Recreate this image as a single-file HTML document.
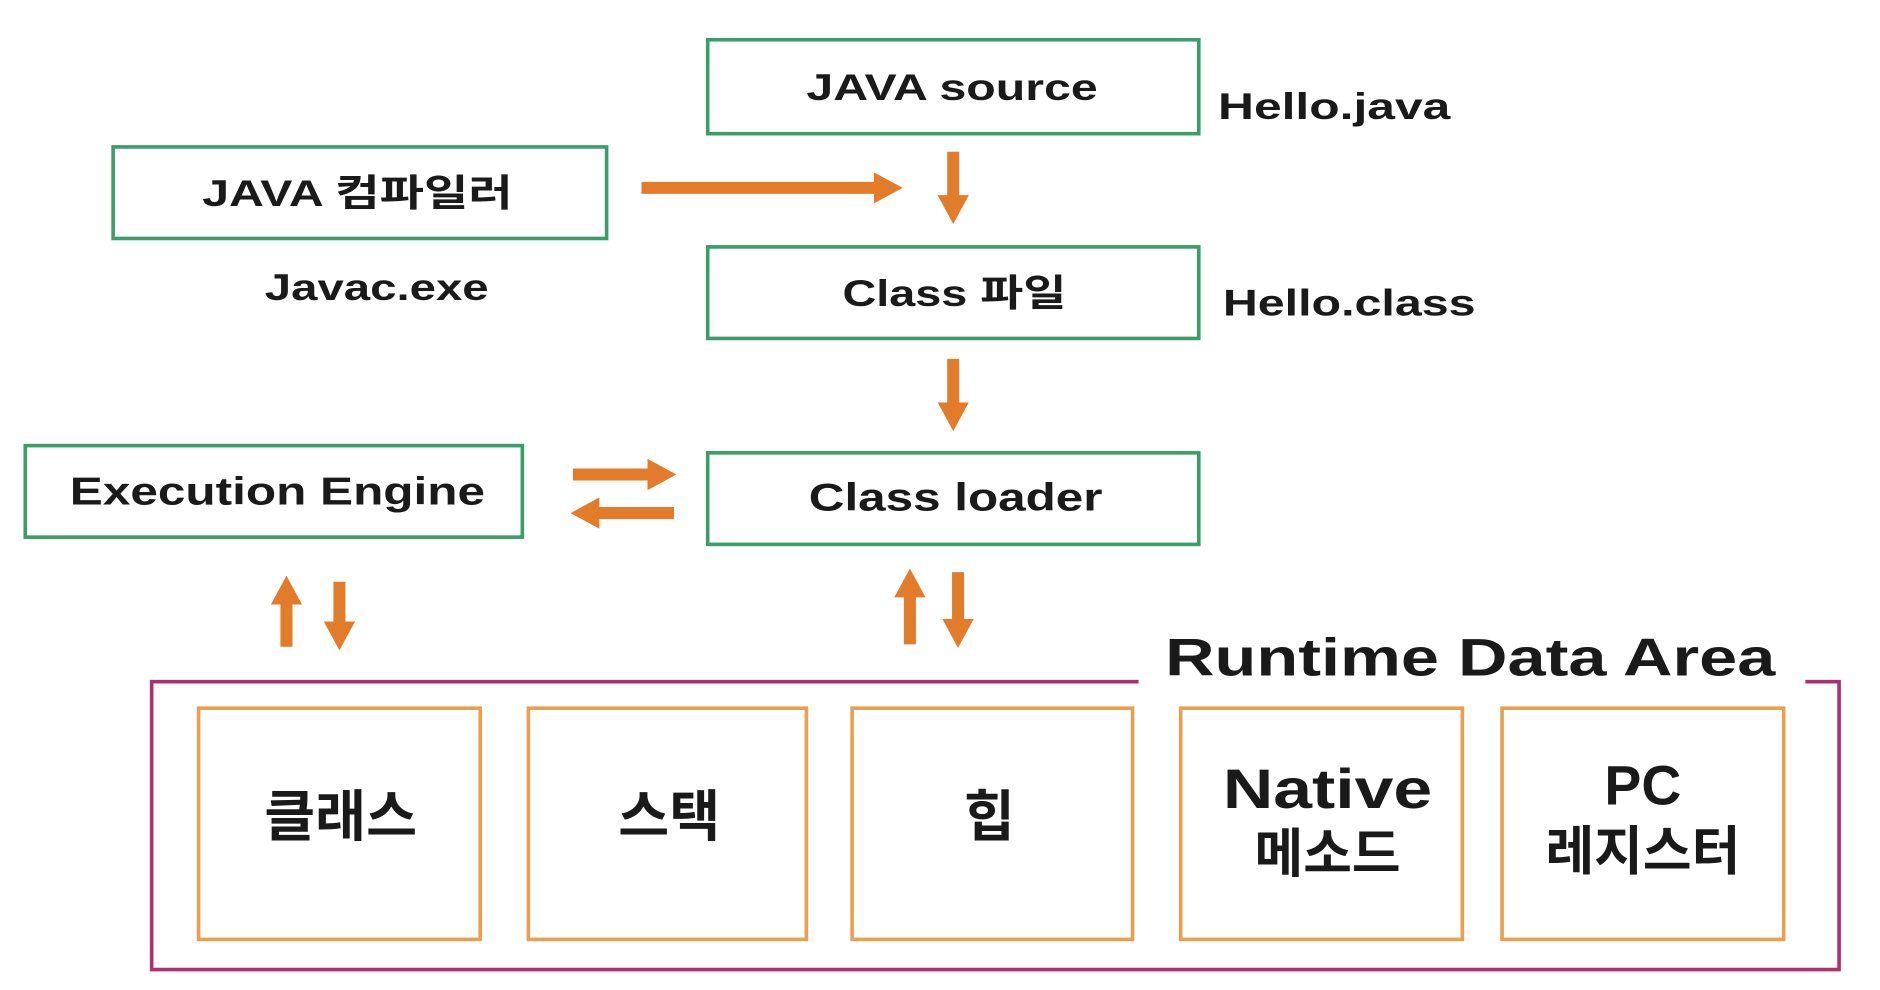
<!DOCTYPE html>
<html><head><meta charset="utf-8"><style>
html,body{margin:0;padding:0;background:#fff;}
svg{display:block;}
text{font-family:"Liberation Sans","Noto Sans CJK KR",sans-serif;font-weight:bold;fill:#1a1a1a;}
</style></head><body>
<svg width="1880" height="990" viewBox="0 0 1562 822" preserveAspectRatio="none" xmlns="http://www.w3.org/2000/svg">
<defs>
<marker id="ah" markerWidth="2.4" markerHeight="2.6" refX="1.2" refY="1.3" orient="auto" markerUnits="strokeWidth">
<path d="M0,0 L2.4,1.3 L0,2.6 Z" fill="#e27c2a"/></marker>
</defs>
<g fill="none" stroke="#3a9d6a" stroke-width="3">
<rect x="588" y="33" width="408" height="78"/>
<rect x="94" y="122" width="410" height="76"/>
<rect x="588" y="205" width="408" height="76"/>
<rect x="21" y="370" width="413" height="76"/>
<rect x="588" y="376" width="408" height="76"/>
</g>
<text x="670" y="83" font-size="31" textLength="242" lengthAdjust="spacingAndGlyphs">JAVA source</text>
<text x="1012" y="99" font-size="31" textLength="193" lengthAdjust="spacingAndGlyphs">Hello.java</text>
<text x="168" y="171" font-size="31" textLength="258" lengthAdjust="spacingAndGlyphs">JAVA 컴파일러</text>
<text x="220" y="249" font-size="31" textLength="186" lengthAdjust="spacingAndGlyphs">Javac.exe</text>
<text x="700" y="254" font-size="31" textLength="186" lengthAdjust="spacingAndGlyphs">Class 파일</text>
<text x="1016" y="262" font-size="31" textLength="210" lengthAdjust="spacingAndGlyphs">Hello.class</text>
<text x="58" y="419" font-size="32" textLength="345" lengthAdjust="spacingAndGlyphs">Execution Engine</text>
<text x="672" y="424" font-size="32" textLength="244" lengthAdjust="spacingAndGlyphs">Class loader</text>
<g stroke="#e27c2a" stroke-width="10" fill="none" marker-end="url(#ah)">
<line x1="533" y1="156" x2="738" y2="156"/>
<line x1="792" y1="126" x2="792" y2="174"/>
<line x1="792" y1="298" x2="792" y2="346"/>
<line x1="476" y1="394" x2="550" y2="394"/>
<line x1="560" y1="426" x2="486" y2="426"/>
<line x1="238" y1="537" x2="238" y2="490"/>
<line x1="282" y1="483" x2="282" y2="528"/>
<line x1="756" y1="535" x2="756" y2="484"/>
<line x1="796" y1="475" x2="796" y2="526"/>
</g>
<path d="M946,566 L126,566 L126,805 L1528,805 L1528,566 L1500,566" fill="none" stroke="#b0306e" stroke-width="3"/>
<text x="968" y="561" font-size="44" textLength="507" lengthAdjust="spacingAndGlyphs">Runtime Data Area</text>
<g fill="none" stroke="#e8a050" stroke-width="3">
<rect x="165" y="588" width="234" height="192"/>
<rect x="439" y="588" width="231" height="192"/>
<rect x="708" y="588" width="233" height="192"/>
<rect x="981" y="588" width="234" height="192"/>
<rect x="1248" y="588" width="234" height="192"/>
</g>
<text x="283" y="694" font-size="46" text-anchor="middle">클래스</text>
<text x="556" y="694" font-size="46" text-anchor="middle">스택</text>
<text x="822" y="694" font-size="46" text-anchor="middle">힙</text>
<text x="1016" y="671" font-size="46" textLength="174" lengthAdjust="spacingAndGlyphs">Native</text>
<text x="1103" y="724" font-size="44" text-anchor="middle">메소드</text>
<text x="1365" y="668" font-size="46" text-anchor="middle">PC</text>
<text x="1365" y="722" font-size="44" text-anchor="middle">레지스터</text>
</svg>
</body></html>
